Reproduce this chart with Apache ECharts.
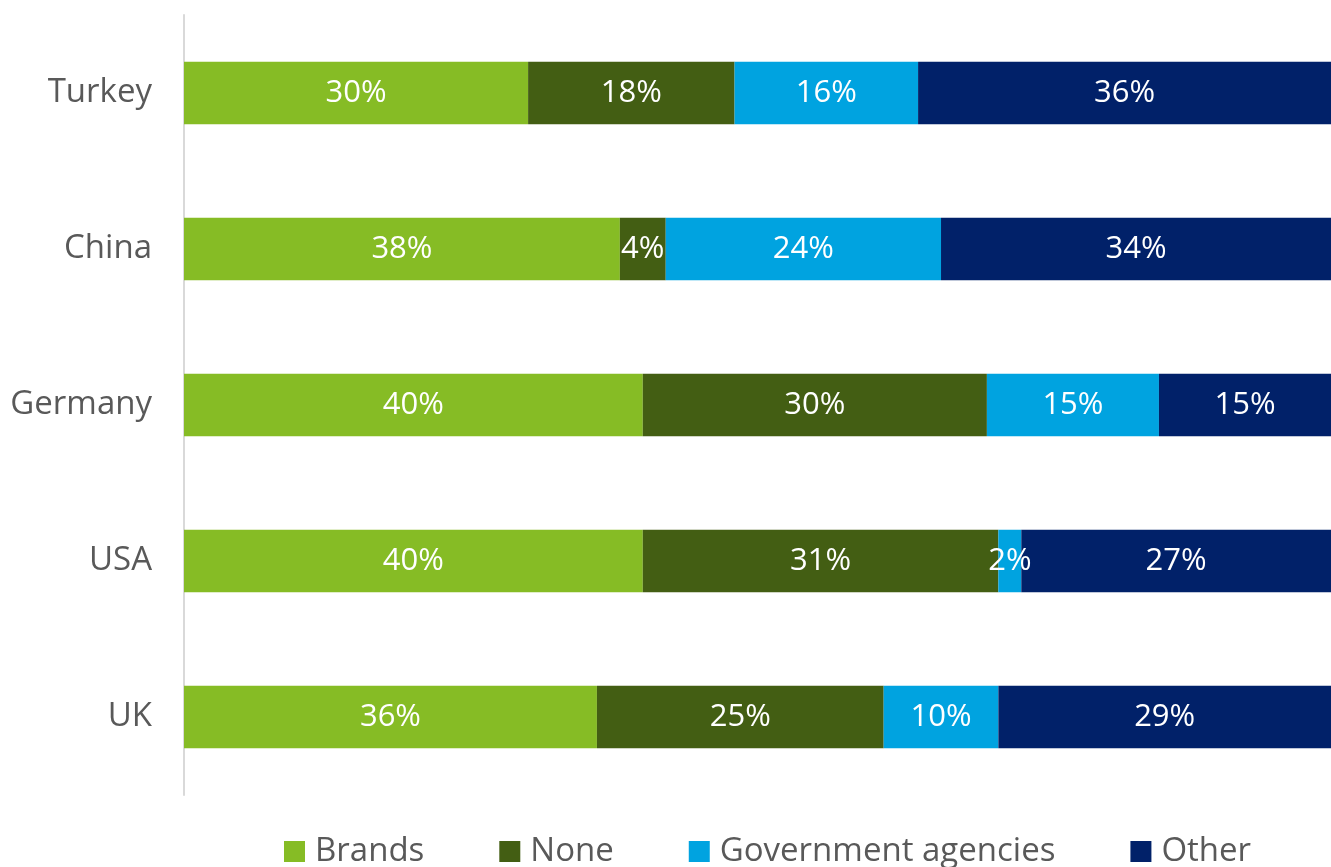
<!DOCTYPE html>
<html>
<head>
<meta charset="utf-8">
<script src="https://cdn.jsdelivr.net/npm/echarts@6/dist/echarts.min.js"></script>
<style>
  html, body { margin: 0; padding: 0; background: #fff; }
  #main { width: 1331px; height: 867px; }
</style>
</head>
<body>
<div id="main"></div>
<script>
var countries = ['Turkey', 'China', 'Germany', 'USA', 'UK'];
var brands = [30, 38, 40, 40, 36];
var none = [18, 4, 30, 31, 25];
var government = [16, 24, 15, 2, 10];
var other = [36, 34, 15, 27, 29];

var font = '"Open Sans", "Noto Sans", sans-serif';

function barSeries(name, data, color) {
    return {
        name: name,
        type: 'bar',
        stack: 'total',
        barWidth: '40%',
        data: data,
        itemStyle: { color: color },
        label: {
            show: true,
            position: 'inside',
            color: '#fff',
            fontFamily: font,
            fontSize: 31,
            formatter: '{c}%'
        }
    };
}

var chart = echarts.init(document.getElementById('main'));
var option = {
    animation: false,
    grid: { left: 184, right: 0, top: 15, height: 780 },
    legend: {
        left: 284,
        top: 835,
        padding: 0,
        icon: 'rect',
        itemWidth: 21,
        itemHeight: 21,
        itemGap: 75,
        textStyle: { fontFamily: font, fontSize: 33, lineHeight: 24, color: '#595959', padding: [0, 0, 0, 5] },
        data: ['Brands', 'None', 'Government agencies', 'Other']
    },
    xAxis: {
        type: 'value',
        min: 0,
        max: 100,
        show: false
    },
    yAxis: {
        type: 'category',
        inverse: true,
        data: countries,
        axisLine: { show: true, lineStyle: { color: '#d9d9d9', width: 2 } },
        axisTick: { show: false },
        axisLabel: { fontFamily: font, fontSize: 33, color: '#595959', margin: 32 }
    },
    series: [
        barSeries('Brands', brands, '#86BC25'),
        barSeries('None', none, '#435E13'),
        barSeries('Government agencies', government, '#00A3E0'),
        barSeries('Other', other, '#012169')
    ]
};
chart.setOption(option);
</script>
</body>
</html>
